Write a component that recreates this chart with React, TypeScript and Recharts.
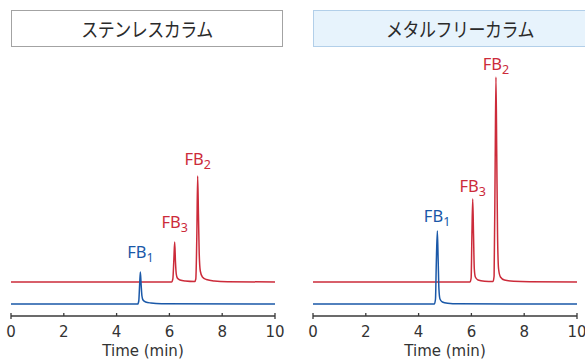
import React from 'react';
import { LineChart, Line, XAxis, YAxis, ReferenceDot } from 'recharts';

// ---- data ----
const xTicks = [0, 2, 4, 6, 8, 10];
const panelTitles = ['ステンレスカラム', 'メタルフリーカラム'];

// Stainless column (left)
const leftBlue = [
  [0, 0], [4.8, 0], [4.84, 3], [4.87, 18], [4.9, 32], [4.93, 19], [4.96, 8], [5.0, 4], [5.1, 2], [5.3, 1], [5.7, 0.3], [10, 0],
];
const leftRed = [
  [0, 22], [6.08, 22], [6.13, 25], [6.17, 45], [6.2, 62], [6.23, 42], [6.26, 30], [6.3, 26], [6.4, 24], [6.6, 23], [6.96, 22.5],
  [7.0, 25], [7.04, 70], [7.07, 128], [7.1, 90], [7.13, 50], [7.17, 33], [7.25, 27], [7.4, 24.5], [7.7, 23], [8.2, 22.3], [10, 22],
];
const leftLabels = [
  { t: 4.9, v: 46, name: 'FB', sub: '1', color: 'blue' },
  { t: 6.2, v: 76, name: 'FB', sub: '3', color: 'red' },
  { t: 7.07, v: 139, name: 'FB', sub: '2', color: 'red' },
];

// Metal-free column (right)
const rightBlue = [
  [0, 0], [4.6, 0], [4.64, 5], [4.67, 40], [4.71, 73], [4.74, 45], [4.77, 15], [4.81, 5], [4.9, 2], [5.1, 0.8], [5.5, 0.2], [10, 0],
];
const rightRed = [
  [0, 22], [5.95, 22], [5.99, 26], [6.02, 70], [6.05, 105], [6.08, 70], [6.11, 35], [6.15, 27], [6.25, 24], [6.5, 22.8], [6.82, 22.5],
  [6.86, 28], [6.9, 140], [6.93, 227], [6.96, 150], [6.99, 70], [7.03, 35], [7.1, 27], [7.25, 24], [7.6, 22.7], [8.2, 22.2], [10, 22],
];
const rightLabels = [
  { t: 4.7, v: 82, name: 'FB', sub: '1', color: 'blue' },
  { t: 6.05, v: 112, name: 'FB', sub: '3', color: 'red' },
  { t: 6.93, v: 234, name: 'FB', sub: '2', color: 'red' },
];

const BLUE = '#1a58a8';
const RED = '#cc2b3a';
const AXIS = '#3a3a3a';
const toRows = (arr: number[][]) => arr.map(([t, v]) => ({ t, v }));

const Tick = (props: any) => {
  const { x, y, payload } = props;
  const end = payload.value === 0 || payload.value === 10;
  return (
    <g>
      <line x1={x} x2={x} y1={y - 3} y2={end ? y + 3 : y} stroke={AXIS} strokeWidth={1.3} />
      <text x={x} y={y + 21} textAnchor="middle" fontSize={15} fill="#333" fontFamily="DejaVu Sans">
        {payload.value}
      </text>
    </g>
  );
};

const AxisTitle = (props: any) => {
  const { viewBox } = props;
  return (
    <text x={viewBox.x + viewBox.width / 2} y={viewBox.y + 40} textAnchor="middle" fontSize={15} fill="#333" fontFamily="DejaVu Sans">
      Time (min)
    </text>
  );
};

const PeakLabel = (name: string, sub: string, color: string) => (props: any) => {
  const { viewBox } = props;
  const cx = viewBox.x + (viewBox.width || 0) / 2;
  const cy = viewBox.y + (viewBox.height || 0) / 2;
  return (
    <text x={cx} y={cy} textAnchor="middle" fill={color} fontFamily="Noto Sans" fontSize={16.5}>
      {name}
      <tspan fontSize={12.5} dy={4}>{sub}</tspan>
    </text>
  );
};

const Panel = ({ blue, red, labels }: any) => (
  <LineChart width={290} height={360} margin={{ top: 64, right: 14, bottom: 0, left: 12 }}>
    <XAxis
      type="number"
      dataKey="t"
      domain={[0, 10]}
      ticks={xTicks}
      tick={<Tick />}
      tickLine={false}
      tickSize={0}
      tickMargin={0}
      height={44}
      axisLine={{ stroke: AXIS, strokeWidth: 1.3 }}
      allowDataOverflow
      label={<AxisTitle />}
    />
    <YAxis type="number" domain={[-12, 240]} hide width={0} allowDataOverflow />
    <Line data={toRows(red)} dataKey="v" type="monotone" stroke={RED} strokeWidth={1.5} dot={false} isAnimationActive={false} />
    <Line data={toRows(blue)} dataKey="v" type="monotone" stroke={BLUE} strokeWidth={1.5} dot={false} isAnimationActive={false} />
    {labels.map((l: any, i: number) => (
      <ReferenceDot
        key={i}
        x={l.t}
        y={l.v}
        r={0}
        fill="none"
        stroke="none"
        label={PeakLabel(l.name, l.sub, l.color === 'blue' ? BLUE : RED)}
      />
    ))}
  </LineChart>
);

const titleText: React.CSSProperties = {
  display: 'inline-block',
  transform: 'scaleY(1.15)',
  fontFamily: '"Noto Sans CJK JP"',
  fontSize: 17,
  color: '#2a2a2a',
  letterSpacing: -0.5,
};

export default function App() {
  return (
    <div style={{ position: 'absolute', left: 0, top: 0, width: 585, height: 360, overflow: 'hidden', background: '#fff' }}>
      <div
        style={{
          position: 'absolute', left: 11, top: 10, width: 270, height: 35,
          border: '1.5px solid #a3a3a3', background: '#fff',
          display: 'flex', alignItems: 'center', justifyContent: 'center',
        }}
      >
        <span style={titleText}>{panelTitles[0]}</span>
      </div>
      <div
        style={{
          position: 'absolute', left: 313, top: 10, width: 290, height: 35,
          border: '1.5px solid #b2cfe9', background: '#e7f3fc',
          display: 'flex', alignItems: 'center', justifyContent: 'flex-start', paddingLeft: 72, boxSizing: 'content-box',
        }}
      >
        <span style={titleText}>{panelTitles[1]}</span>
      </div>
      <div style={{ position: 'absolute', left: -1, top: 0 }}>
        <Panel blue={leftBlue} red={leftRed} labels={leftLabels} />
      </div>
      <div style={{ position: 'absolute', left: 301, top: 0 }}>
        <Panel blue={rightBlue} red={rightRed} labels={rightLabels} />
      </div>
    </div>
  );
}
